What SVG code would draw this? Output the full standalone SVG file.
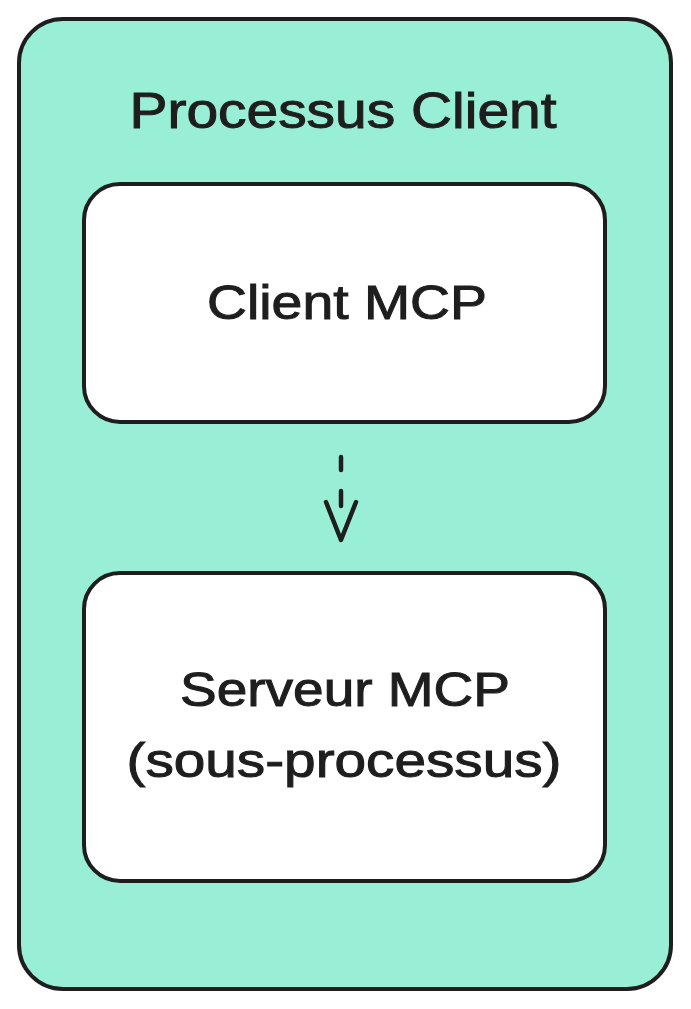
<svg xmlns="http://www.w3.org/2000/svg" width="691" height="1009" viewBox="0 0 691 1009">
<defs>
<style>
.frame{stroke:#1e1e1e;stroke-width:4;stroke-linejoin:round}
.lbl{font-family:"Liberation Sans","DejaVu Sans",sans-serif;fill:#1e1e1e;stroke:#1e1e1e;stroke-width:1;text-anchor:middle}
.conn{stroke:#1e1e1e;stroke-width:4.5;fill:none;stroke-linecap:round;stroke-linejoin:round}
</style>
</defs>
<rect width="691" height="1009" fill="#ffffff"/>
<g id="processus-client">
<rect class="frame" x="19" y="19" width="652" height="970" rx="44" fill="#99efd5"/>
<text class="lbl" x="343" y="128" font-size="50" textLength="427" lengthAdjust="spacingAndGlyphs">Processus Client</text>
</g>
<g id="client-mcp">
<rect class="frame" x="84" y="184" width="521" height="238" rx="36" fill="#ffffff"/>
<text class="lbl" x="347" y="319" font-size="48" textLength="280" lengthAdjust="spacingAndGlyphs">Client MCP</text>
</g>
<g id="serveur-mcp">
<rect class="frame" x="84" y="573" width="521" height="308" rx="36" fill="#ffffff"/>
<text class="lbl" x="345" y="706" font-size="48" textLength="330" lengthAdjust="spacingAndGlyphs">Serveur MCP</text>
<text class="lbl" x="344" y="777" font-size="48" textLength="435" lengthAdjust="spacingAndGlyphs">(sous-processus)</text>
</g>
<g id="connectors">
<path class="conn" d="M341 457 L341 470 M341 491 L341 506"/>
<path class="conn" d="M326 502 L341 540 L356 502"/>
</g>
</svg>
